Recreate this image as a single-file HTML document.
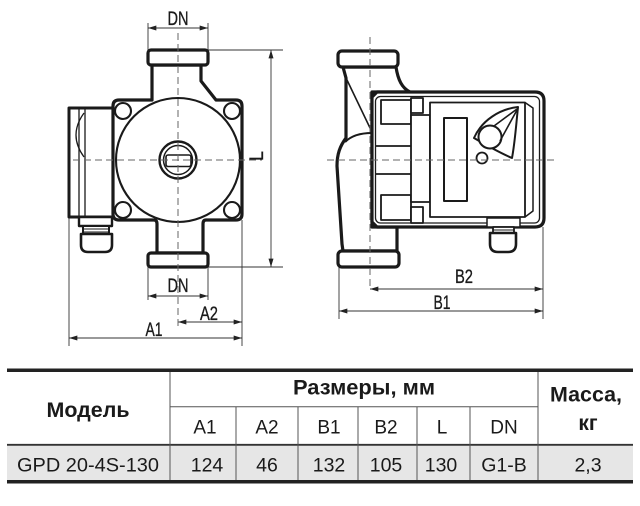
<!DOCTYPE html>
<html><head><meta charset="utf-8"><style>
html,body{margin:0;padding:0;background:#fff;}
svg{display:block;}
text{font-family:"Liberation Sans",sans-serif;fill:#1a1a1a;}
</style></head><body>
<svg width="640" height="506" viewBox="0 0 640 506" xmlns="http://www.w3.org/2000/svg">
<defs>
<marker id="ar" viewBox="0 0 10 6" refX="10" refY="3" markerWidth="9" markerHeight="5" markerUnits="userSpaceOnUse" orient="auto-start-reverse"><path d="M0,0 L10,3 L0,6 Z" fill="#222"/></marker>
</defs>
<rect width="640" height="506" fill="#fff"/>

<!-- ===== LEFT PUMP ===== -->
<g stroke="#333" stroke-width="0.9" fill="none">
  <line x1="148" y1="23" x2="148" y2="50"/>
  <line x1="208" y1="23" x2="208" y2="50"/>
  <line x1="148" y1="28" x2="208" y2="28" marker-start="url(#ar)" marker-end="url(#ar)"/>
  <line x1="208" y1="50" x2="283" y2="50"/>
  <line x1="208" y1="267" x2="283" y2="267"/>
  <line x1="271" y1="50" x2="271" y2="267" marker-start="url(#ar)" marker-end="url(#ar)"/>
  <line x1="148" y1="267" x2="148" y2="300"/>
  <line x1="208" y1="267" x2="208" y2="300"/>
  <line x1="148" y1="296" x2="208" y2="296" marker-start="url(#ar)" marker-end="url(#ar)"/>
  <line x1="242" y1="220" x2="242" y2="346"/>
  <line x1="69" y1="217" x2="69" y2="346"/>
  <line x1="178" y1="322" x2="242" y2="322" marker-start="url(#ar)" marker-end="url(#ar)"/>
  <line x1="69" y1="338" x2="242" y2="338" marker-start="url(#ar)" marker-end="url(#ar)"/>
</g>

<g stroke="#1a1a1a" stroke-linejoin="round" fill="#fff">
  <rect x="69" y="108" width="44" height="109" stroke-width="3"/>
  <line x1="79" y1="108" x2="79" y2="217" stroke-width="1.3"/>
  <line x1="85" y1="108" x2="85" y2="217" stroke-width="1.3"/>
  <path d="M84,113 Q68,135 84,157" fill="none" stroke-width="1.3"/>
  <rect x="79" y="217" width="33" height="9" stroke-width="2.4"/>
  <rect x="83" y="226" width="26" height="8" stroke-width="2"/>
  <line x1="83" y1="229" x2="109" y2="229" stroke-width="1"/>
  <line x1="83" y1="232" x2="109" y2="232" stroke-width="1"/>
  <path d="M81,234 L81,245 Q81,252 88,252 L105,252 Q112,252 112,245 L112,234 Z" stroke-width="2.6"/>
  <path d="M152,65 L152,100 L119,100 Q113,100 113,106 L113,214 Q113,220 119,220 L154,220 Q157,220 157,224 L157,253 L203,253 L203,224 Q203,220 206,220 L236,220 Q242,220 242,214 L242,106 Q242,100 236,100 L216,100 L201,81 L201,65 Z" stroke-width="3.2"/>
  <circle cx="178" cy="160" r="62" fill="none" stroke-width="2.1"/>
  <circle cx="123" cy="111" r="8" stroke-width="2.1"/>
  <circle cx="232" cy="111" r="8" stroke-width="2.1"/>
  <circle cx="123" cy="210" r="8" stroke-width="2.1"/>
  <circle cx="232" cy="210" r="8" stroke-width="2.1"/>
  <circle cx="178" cy="160" r="18.5" stroke-width="2.4"/>
  <circle cx="178" cy="160" r="14.5" stroke-width="1.5"/>
  <rect x="166" y="155" width="25" height="11.5" rx="2" stroke-width="1.6"/>
  <rect x="148" y="50" width="60" height="15" rx="3" stroke-width="3.2"/>
  <rect x="148" y="253" width="60" height="14" rx="3" stroke-width="3.2"/>
</g>
<g stroke="#666" stroke-width="1" stroke-dasharray="7,4" fill="none">
  <line x1="178" y1="33" x2="178" y2="326"/>
  <line x1="73" y1="160" x2="262" y2="160"/>
</g>

<!-- ===== RIGHT PUMP ===== -->
<g stroke="#333" stroke-width="0.9" fill="none">
  <line x1="543" y1="227" x2="543" y2="319"/>
  <line x1="339" y1="267" x2="339" y2="319"/>
  <line x1="370" y1="289" x2="543" y2="289" marker-start="url(#ar)" marker-end="url(#ar)"/>
  <line x1="339" y1="311" x2="543" y2="311" marker-start="url(#ar)" marker-end="url(#ar)"/>
</g>
<g stroke="#1a1a1a" stroke-linejoin="round" fill="#fff">
  <path d="M343,67 L346,78 L346,138 C340,146 337,154 337,166 L342,244 L343,251 L397,251 L397,227 L372,227 L372,92 L410,92 C402,88 398,80 396,67 Z" stroke-width="3.2"/>
  <line x1="347" y1="80" x2="371" y2="130" stroke-width="1.6"/>
  <path d="M345,142 C352,135 362,133 372,133" fill="none" stroke-width="2.1"/>
  <path d="M377,92 L535,92 Q544,92 544,101 L544,218 Q544,227 535,227 L377,227 L372,222 L372,97 Z" stroke-width="3.2"/>
  <rect x="375.5" y="96.5" width="164" height="126.5" rx="5" fill="none" stroke-width="1.3"/>
  <rect x="381" y="100" width="30" height="24" stroke-width="1.8"/>
  <rect x="381" y="195" width="30" height="25" stroke-width="1.8"/>
  <rect x="411" y="98" width="12" height="15" stroke-width="1.8"/>
  <rect x="411" y="207" width="12" height="16" stroke-width="1.8"/>
  <rect x="411" y="115" width="19" height="87" stroke-width="1.8"/>
  <line x1="375" y1="146" x2="411" y2="146" stroke-width="1.8"/>
  <line x1="375" y1="174" x2="411" y2="174" stroke-width="1.8"/>
  <rect x="430" y="102.5" width="95" height="114.5" stroke-width="1.8"/>
  <polyline points="525,102.5 533,108 533,211 525,217" fill="none" stroke-width="1.5"/>
  <rect x="444" y="118" width="23" height="83" stroke-width="2"/>
  <path d="M474,138 C482,120 500,109 518,107 C516,126 515,142 512,158 C498,152 486,145 474,138 Z" stroke-width="2"/>
  <circle cx="490" cy="137" r="11.5" stroke-width="2"/>
  <line x1="494" y1="126" x2="517" y2="109" stroke-width="1.6"/>
  <line x1="500" y1="141" x2="517" y2="110" stroke-width="1.6"/>
  <circle cx="482" cy="158" r="5.5" stroke-width="1.8"/>
  <rect x="487" y="218" width="33" height="9" stroke-width="1.5"/>
  <rect x="493" y="227" width="21" height="6" stroke-width="1.8"/>
  <line x1="493" y1="230" x2="514" y2="230" stroke-width="1"/>
  <path d="M490,233 L490,244 Q490,252 498,252 L508,252 Q516,252 516,244 L516,233 Z" stroke-width="2.6"/>
  <rect x="338" y="51" width="60" height="16" rx="4" stroke-width="3.2"/>
  <rect x="338" y="251" width="61" height="16" rx="4" stroke-width="3.2"/>
</g>
<g stroke="#666" stroke-width="1" stroke-dasharray="7,4" fill="none">
  <line x1="370" y1="37" x2="370" y2="289"/>
  <line x1="327" y1="160" x2="558" y2="160"/>
</g>

<!-- dimension labels -->
<g font-size="19.5" text-anchor="middle" stroke="#1a1a1a" stroke-width="0.35">
  <text x="178" y="25" textLength="21" lengthAdjust="spacingAndGlyphs">DN</text>
  <text x="178" y="292" textLength="21" lengthAdjust="spacingAndGlyphs">DN</text>
  <text x="209" y="320" textLength="18" lengthAdjust="spacingAndGlyphs">A2</text>
  <text x="154" y="336" textLength="17" lengthAdjust="spacingAndGlyphs">A1</text>
  <text x="464" y="283" textLength="18" lengthAdjust="spacingAndGlyphs">B2</text>
  <text x="442" y="309" textLength="17" lengthAdjust="spacingAndGlyphs">B1</text>
  <text transform="translate(263,156) rotate(-90)" x="0" y="0" textLength="10" lengthAdjust="spacingAndGlyphs">L</text>
</g>

<!-- ===== TABLE ===== -->
<rect x="7" y="445" width="626" height="35" fill="#e6e6e6"/>
<rect x="7" y="368.5" width="626" height="3.5" fill="#222"/>
<rect x="7" y="480" width="626" height="3.5" fill="#222"/>
<line x1="7" y1="444.8" x2="633" y2="444.8" stroke="#333" stroke-width="1.8"/>
<g stroke="#555" stroke-width="1">
  <line x1="170" y1="372" x2="170" y2="480"/>
  <line x1="538" y1="372" x2="538" y2="480"/>
  <line x1="170" y1="406.7" x2="538" y2="406.7"/>
  <line x1="236" y1="407" x2="236" y2="480"/>
  <line x1="298" y1="407" x2="298" y2="480"/>
  <line x1="358" y1="407" x2="358" y2="480"/>
  <line x1="417" y1="407" x2="417" y2="480"/>
  <line x1="470" y1="407" x2="470" y2="480"/>
</g>
<g text-anchor="middle" font-weight="bold" font-size="21">
  <text x="88" y="417" textLength="83" lengthAdjust="spacingAndGlyphs">Модель</text>
  <text x="364" y="394.5" textLength="142" lengthAdjust="spacingAndGlyphs">Размеры, мм</text>
  <text x="586" y="401.5" textLength="72" lengthAdjust="spacingAndGlyphs">Масса,</text>
  <text x="588" y="430">кг</text>
</g>
<g text-anchor="middle" font-size="19">
  <text x="205" y="433.3">A1</text>
  <text x="267" y="433.3">A2</text>
  <text x="329" y="433.3">B1</text>
  <text x="386" y="433.3">B2</text>
  <text x="442" y="433.3">L</text>
  <text x="504" y="433.3">DN</text>
</g>
<g text-anchor="middle" font-size="19.5">
  <text x="88" y="471.7" textLength="142" lengthAdjust="spacingAndGlyphs">GPD 20-4S-130</text>
  <text x="207" y="471.7">124</text>
  <text x="267" y="471.7">46</text>
  <text x="329" y="471.7">132</text>
  <text x="386" y="471.7">105</text>
  <text x="441" y="471.7">130</text>
  <text x="504" y="471.7">G1-B</text>
  <text x="588" y="471.7">2,3</text>
</g>
</svg>
</body></html>
